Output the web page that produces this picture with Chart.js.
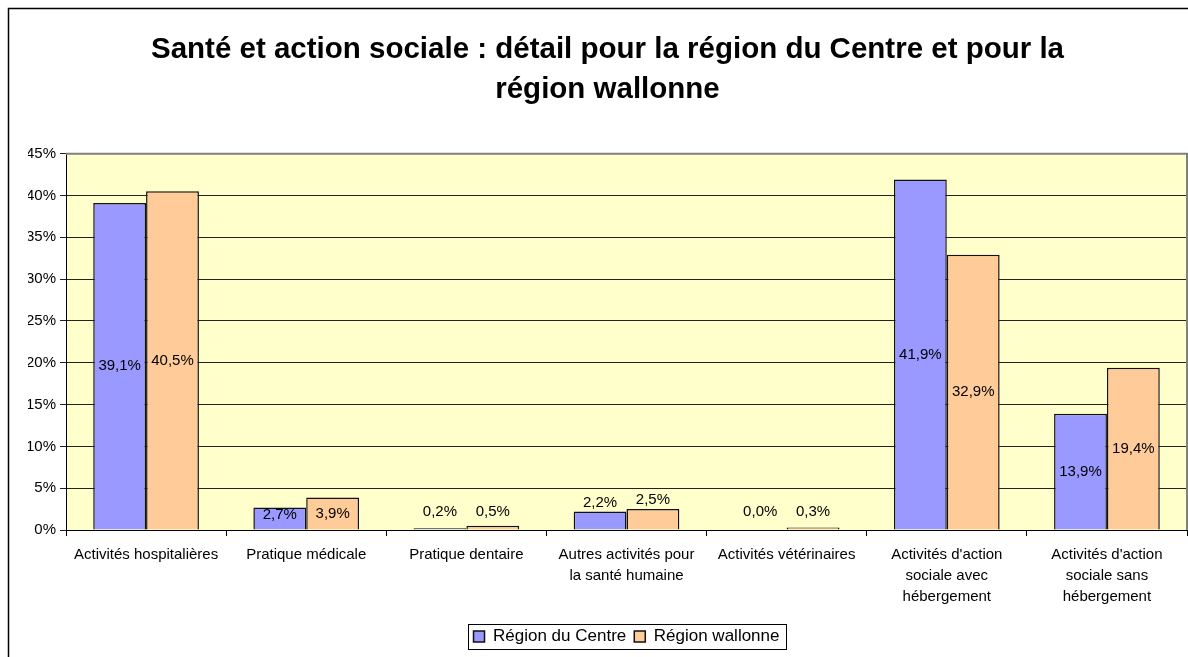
<!DOCTYPE html>
<html>
<head>
<meta charset="utf-8">
<script src="https://cdn.jsdelivr.net/npm/chart.js@4"></script>
<style>
   html, body { margin: 0; padding: 0; background: #fff; }
   #wrap { width: 1188px; height: 657px; }
</style>
</head>
<body>
<div id="wrap"><canvas id="myChart" width="1188" height="657"></canvas></div>
<script>
const categories = [
   ['Activités hospitalières'],
   ['Pratique médicale'],
   ['Pratique dentaire'],
   ['Autres activités pour', 'la santé humaine'],
   ['Activités vétérinaires'],
   ["Activités d'action", 'sociale avec', 'hébergement'],
   ["Activités d'action", 'sociale sans', 'hébergement']
];
const regionCentre = [39.1, 2.7, 0.2, 2.2, 0.0, 41.9, 13.9];
const regionWallonne = [40.5, 3.9, 0.5, 2.5, 0.3, 32.9, 19.4];
const yTicks = [0, 5, 10, 15, 20, 25, 30, 35, 40, 45];

const FONT = "'Liberation Sans', Arial, sans-serif";
const LEGEND_SHIFT = 19;

// fond jaune + bord du cadre
const plotBg = {
   id: 'plotBg',
   afterUpdate(chart) {
      const lg = chart.legend;
      if (!lg) return;
      lg.left += LEGEND_SHIFT;
      lg.right += LEGEND_SHIFT;
      lg.legendHitBoxes.forEach(h => { h.left += LEGEND_SHIFT; });
   },
   beforeDraw(chart) {
      const { ctx, chartArea: a } = chart;
      ctx.save();
      ctx.fillStyle = '#FFFFCC';
      ctx.fillRect(a.left, a.top, a.right - a.left, a.bottom - a.top);
      ctx.restore();
   },
   afterDraw(chart) {
      const { ctx, chartArea: a } = chart;
      ctx.save();
      ctx.strokeStyle = '#808080';
      ctx.lineWidth = 2;
      ctx.beginPath();
      ctx.moveTo(a.left, a.top);
      ctx.lineTo(a.right, a.top);
      ctx.lineTo(a.right, a.bottom);
      ctx.stroke();
      // cadre extérieur
      ctx.strokeStyle = '#000';
      ctx.lineWidth = 1.5;
      ctx.beginPath();
      ctx.moveTo(8.5, 657);
      ctx.lineTo(8.5, 8.5);
      ctx.lineTo(1188, 8.5);
      ctx.stroke();
      // cadre de la légende
      const lg = chart.legend;
      if (lg && lg.legendHitBoxes.length) {
         const boxes = lg.legendHitBoxes;
         const l = boxes[0].left - 6;
         const last = boxes[boxes.length - 1];
         const r = last.left + last.width + 6;
         const t = boxes[0].top - 4;
         const b = boxes[0].top + boxes[0].height + 4;
         ctx.strokeStyle = '#000';
         ctx.lineWidth = 1;
         ctx.strokeRect(Math.round(l) + 0.5, Math.round(t) + 0.5, Math.round(r - l), Math.round(b - t));
      }
      ctx.restore();
   }
};

// étiquettes de valeur
const valueLabels = {
   id: 'valueLabels',
   afterDatasetsDraw(chart) {
      const { ctx, chartArea: a } = chart;
      ctx.save();
      ctx.font = '15px ' + FONT;
      ctx.fillStyle = '#000';
      ctx.textAlign = 'center';
      ctx.textBaseline = 'middle';
      chart.data.datasets.forEach((ds, di) => {
         chart.getDatasetMeta(di).data.forEach((bar, i) => {
            let y;
            if (bar.base - bar.y < 22) y = Math.min(bar.y - 9, a.bottom - 18);
            else y = Math.min((bar.y + bar.base) / 2, a.bottom - 15);
            ctx.fillText(ds.data[i].toFixed(1).replace('.', ',') + '%', bar.x, y);
         });
      });
      ctx.restore();
   }
};

new Chart(document.getElementById('myChart').getContext('2d'), {
   type: 'bar',
   data: {
      labels: categories,
      datasets: [
         {
            label: 'Région du Centre',
            data: regionCentre,
            backgroundColor: '#9999FF',
            borderColor: '#111',
            borderWidth: 1.5,
            categoryPercentage: 0.66,
            barPercentage: 1
         },
         {
            label: 'Région wallonne',
            data: regionWallonne,
            backgroundColor: '#FFCC99',
            borderColor: '#111',
            borderWidth: 1.5,
            categoryPercentage: 0.66,
            barPercentage: 1
         }
      ]
   },
   options: {
      responsive: false,
      animation: false,
      layout: { padding: { left: 28, right: 1, top: 0, bottom: 2 } },
      plugins: {
         title: {
            display: true,
            text: ['Santé et action sociale : détail pour la région du Centre et pour la', 'région wallonne'],
            font: { family: FONT, size: 29.5, weight: 'bold', lineHeight: 1.35 },
            color: '#000',
            padding: { top: 30, bottom: 44 }
         },
         legend: {
            position: 'bottom',
            labels: {
               font: { family: FONT, size: 17 },
               color: '#000',
               boxWidth: 11,
               boxHeight: 11,
               padding: 8
            }
         },
         tooltip: { enabled: false }
      },
      scales: {
         x: {
            grid: { offset: true, drawOnChartArea: false, drawTicks: true, tickLength: 6, color: '#000' },
            border: { color: '#000', width: 1 },
            ticks: { font: { family: FONT, size: 15, lineHeight: 1.37 }, color: '#000', padding: 9, maxRotation: 0, autoSkip: false },
            afterFit: s => { s.height = 90; }
         },
         y: {
            min: 0,
            max: 45,
            afterBuildTicks: s => { s.ticks = yTicks.map(v => ({ value: v })); },
            grid: { color: '#222', tickLength: 6 },
            border: { color: '#000', width: 1 },
            ticks: { font: { family: FONT, size: 15 }, color: '#000', padding: 4, callback: v => v + '%' },
            afterFit: s => { s.width = 38; }
         }
      }
   },
   plugins: [plotBg, valueLabels]
});
</script>
</body>
</html>
